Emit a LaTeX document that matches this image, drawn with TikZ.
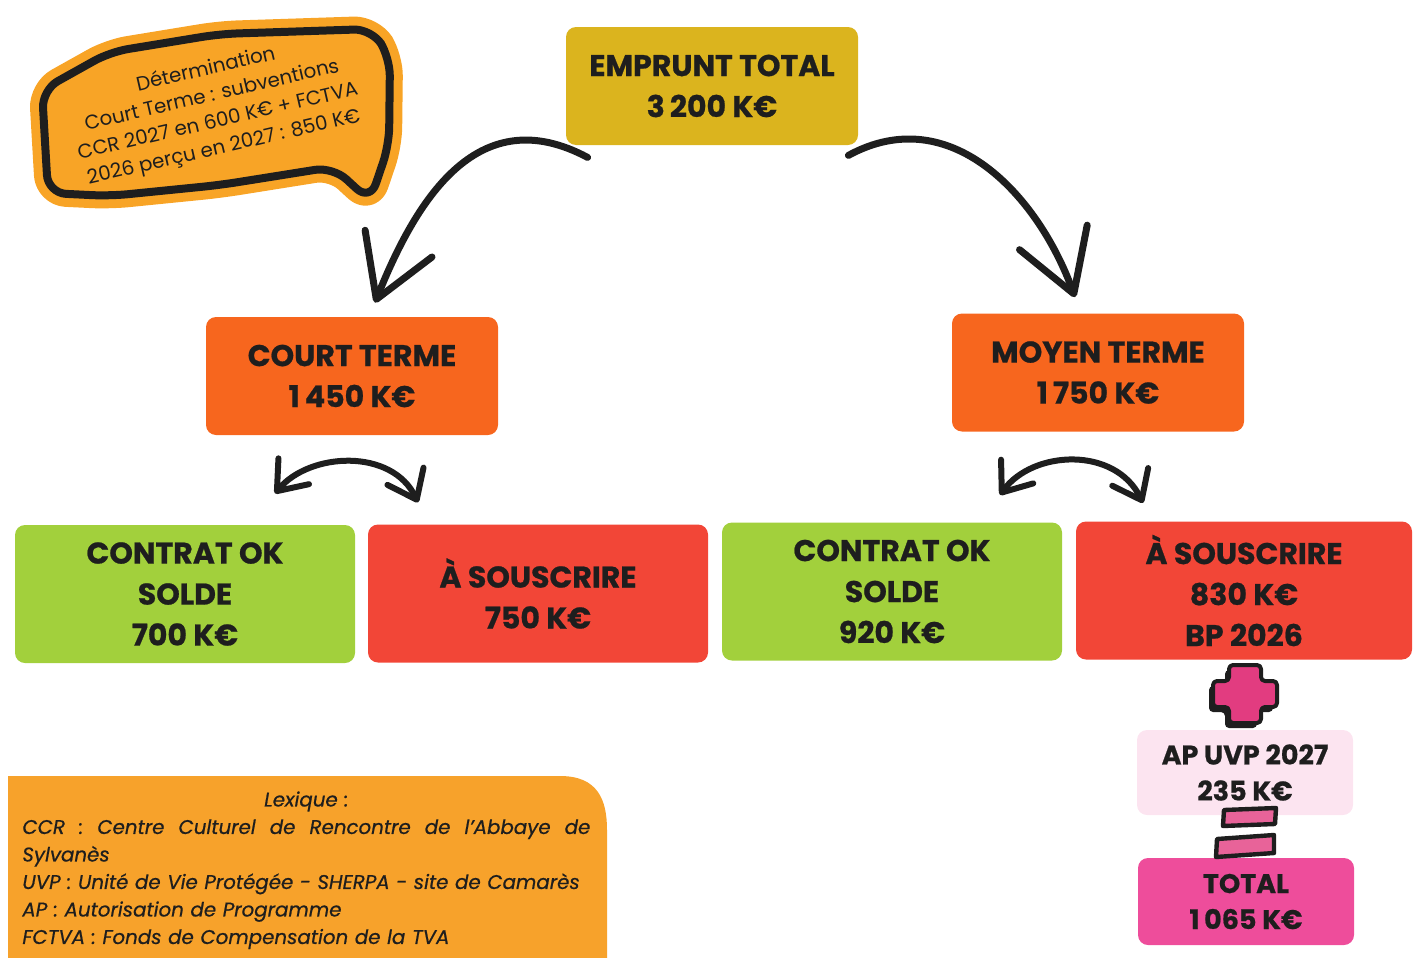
\documentclass[tikz,border=0pt]{standalone}
\usepackage{fontspec}
\setmainfont{Poppins}
\newfontfamily\heavyfont{Poppins}[BoldFeatures={FakeBold=0.7}]
\newfontfamily\lexfont{Poppins}[ItalicFeatures={FakeBold=0.6}]
\usetikzlibrary{arrows.meta}
\definecolor{cgold}{HTML}{DBB41E}
\definecolor{corange}{HTML}{F7661E}
\definecolor{cgreen}{HTML}{A2D03C}
\definecolor{cred}{HTML}{F24637}
\definecolor{clpink}{HTML}{FCE4F0}
\definecolor{cpink}{HTML}{EE4D9B}
\definecolor{cplus}{HTML}{E23C80}
\definecolor{clex}{HTML}{F7A22B}
\definecolor{cbub}{HTML}{F8A426}
\definecolor{cink}{HTML}{1E1E1E}
\tikzset{
  box/.style={rounded corners=5pt, inner sep=0pt, align=center,
    font=\heavyfont\bfseries\fontsize{15}{20.5}\selectfont, text=cink},
  bigbox/.style={box, minimum width=146pt, minimum height=59pt},
  widebox/.style={box, minimum width=170pt, minimum height=69pt},
  smallbox/.style={box, minimum width=108pt, minimum height=43pt,
    font=\heavyfont\bfseries\fontsize{13.5}{18}\selectfont},
  bigarrow/.style={draw=cink, line width=3.5pt, line cap=round,
    -{Straight Barb[length=30pt,width=36pt,line width=3.5pt,round]}},
  dblarrow/.style={draw=cink, line width=3pt, line cap=round,
    {Straight Barb[length=13pt,width=20pt,line width=3pt,round]}-{Straight Barb[length=13pt,width=20pt,line width=3pt,round]}},
  bubblepath/.style={rounded corners=9pt, line join=round},
  sym/.style={draw=cink, line width=2pt, line join=round},
}
\begin{document}
\begin{tikzpicture}[x=0.5pt,y=-0.5pt]
\useasboundingbox (0,0) rectangle (1414,958);

% speech bubble
\path[fill=cbub, draw=cbub, line width=13pt, bubblepath]
  (42,90) -- (110,52) -- (220,34) -- (372,29) -- (390,58) -- (389,145) -- (370,201) -- (333,167) -- (220,185) -- (110,196) -- (48,193) -- cycle;
\draw[cink, line width=4pt, bubblepath]
  (42,90) -- (110,52) -- (220,34) -- (372,29) -- (390,58) -- (389,145) -- (370,201) -- (333,167) -- (220,185) -- (110,196) -- (48,193) -- cycle;
\node[rotate=13, align=center, font=\fontsize{9.9}{13.3}\selectfont, text=cink] (bubble) at (215,109)
  {Détermination\\Court Terme : subventions\\CCR 2027 en 600 K€ + FCTVA\\2026 perçu en 2027 : 850 K€};

% main boxes
\node[bigbox, fill=cgold] (emprunt) at (712,86) {EMPRUNT TOTAL\\3\,200 K€};
\node[bigbox, fill=corange] (court) at (352,376) {COURT TERME\\1\,450 K€};
\node[bigbox, fill=corange] (moyen) at (1098,372.5) {MOYEN TERME\\1\,750 K€};
\node[widebox, fill=cgreen] (contrat1) at (185,594) {CONTRAT OK\\SOLDE\\700 K€};
\node[widebox, fill=cred] (sous1) at (538,593.5) {À SOUSCRIRE\\750 K€};
\node[widebox, fill=cgreen] (contrat2) at (892,591.5) {CONTRAT OK\\SOLDE\\920 K€};
\node[widebox, fill=cred, minimum width=168pt] (sous2) at (1244,590.5) {À SOUSCRIRE\\830 K€\\BP 2026};
\node[smallbox, fill=clpink, minimum height=42.5pt] (apuvp) at (1245,772.5) {AP UVP 2027\\235 K€};
\node[smallbox, fill=cpink, minimum height=43.5pt] (total) at (1246,901.5) {TOTAL\\1\,065 K€};

% big arrows
\coordinate (a1s) at ([shift={(22,12)}]emprunt.south west);
\coordinate (a1e) at ([shift={(23,-14)}]court.north);
\coordinate (a2s) at ([shift={(-10,10)}]emprunt.south east);
\coordinate (a2e) at ([shift={(-23,-16)}]moyen.north);
\draw[bigarrow] (a1s) .. controls (480,100) and (418,195) .. (a1e);
\draw[bigarrow] (a2s) .. controls (950,100) and (1038,195) .. (a2e);

% small double arrows
\coordinate (b1l) at ([shift={(-77,58)}]court.south);
\coordinate (b1r) at ([shift={(66,67)}]court.south);
\coordinate (b2l) at ([shift={(-98,63)}]moyen.south);
\coordinate (b2r) at ([shift={(45,71)}]moyen.south);
\draw[dblarrow] (b1l) .. controls (310,452) and (392,448) .. (b1r);
\draw[dblarrow] (b2l) .. controls (1033,450) and (1115,446) .. (b2r);

% plus sign
\begin{scope}[shift={(1245,694)}]
  \fill[cink, shift={(-4,5)}, rounded corners=2pt] (-16,-29) -- (16,-29) -- (16,-13) -- (32,-13) -- (32,13) -- (16,13) -- (16,29) -- (-16,29) -- (-16,13) -- (-32,13) -- (-32,-13) -- (-16,-13) -- cycle;
  \draw[sym, fill=cplus, rounded corners=2pt] (-16,-29) -- (16,-29) -- (16,-13) -- (32,-13) -- (32,13) -- (16,13) -- (16,29) -- (-16,29) -- (-16,13) -- (-32,13) -- (-32,-13) -- (-16,-13) -- cycle;
\end{scope}

% equals sign
\draw[sym, fill=cplus!80, line width=2.2pt] (1224,810) -- (1276,808) -- (1275,824) -- (1223,826) -- cycle;
\draw[sym, fill=cplus!80, line width=2.2pt] (1217,839) -- (1274,835) -- (1274,853) -- (1216,857) -- cycle;

% lexique
\path[fill=clex] (8,958) -- (8,776) -- (560,776) .. controls (598,776) and (607,800) .. (607,830) -- (607,958) -- cycle;
\node[anchor=north west, inner sep=0pt, text width=284pt, align=left,
  font=\lexfont\itshape\fontsize{9.9}{13.75}\selectfont, text=cink] (lex) at (22,791)
  {\makebox[284pt][c]{Lexique :}\\
   \makebox[284pt][l]{CCR\hfill:\hfill Centre\hfill Culturel\hfill de\hfill Rencontre\hfill de\hfill l’Abbaye\hfill de}\\
   Sylvanès\\
   UVP : Unité de Vie Protégée - SHERPA - site de Camarès\\
   AP : Autorisation de Programme\\
   FCTVA : Fonds de Compensation de la TVA};
\end{tikzpicture}
\end{document}
